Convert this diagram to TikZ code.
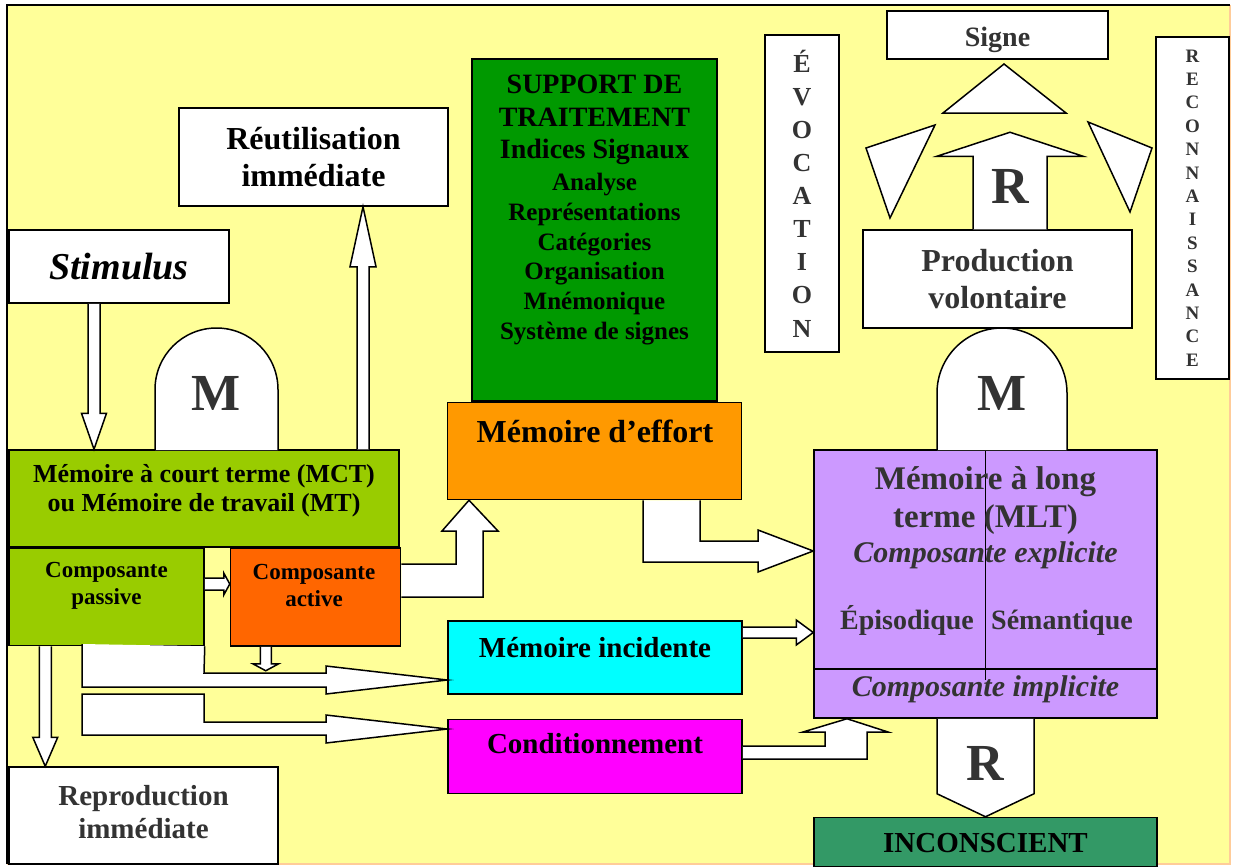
\documentclass[tikz,border=0pt]{standalone}
\usepackage{fontspec}
\setmainfont{Liberation Serif}
\usetikzlibrary{calc,positioning}

\definecolor{fond}{HTML}{FFFF99}
\definecolor{bord}{HTML}{FFCC99}
\definecolor{vertmct}{HTML}{99CC00}
\definecolor{orangeact}{HTML}{FF6600}
\definecolor{orangeeff}{HTML}{FF9900}
\definecolor{vertsupp}{HTML}{009900}
\definecolor{cyaninc}{HTML}{00FFFF}
\definecolor{magcond}{HTML}{FF00FF}
\definecolor{lilamlt}{HTML}{CC99FF}
\definecolor{vertincon}{HTML}{339966}
\definecolor{gristexte}{HTML}{333333}

\newcommand{\fsz}[2]{\fontsize{#1}{#2}\selectfont}
\newcommand{\blockarrow}[5]{%
  \path[block arrow] let \p1=(#1), \p2=(#2),
    \n1={atan2(\y2-\y1,\x2-\x1)}, \n2={veclen(\x2-\x1,\y2-\y1)} in
    [shift={(\p1)}, rotate=\n1]
    (0pt,-#3pt) -- ({\n2-#5pt},-#3pt) -- ({\n2-#5pt},-#4pt) -- ({\n2+0pt},0pt)
    -- ({\n2-#5pt},#4pt) -- ({\n2-#5pt},#3pt) -- (0pt,#3pt);}

\begin{document}
\begin{tikzpicture}[x=1pt,y=-1pt,line width=1.5pt,
    box/.style={draw,rectangle,inner sep=0pt,font=\bfseries},
    txt/.style={inner sep=0pt,font=\bfseries},
    block arrow/.style={draw,fill=white,line join=miter}]

    \useasboundingbox (0,0) rectangle (1234,867);
    \fill[fond] (7,5) rectangle (1230,864);
    \draw[bord,line width=2pt] (1230,5) -- (1230,864) -- (7,864);
    \draw[line width=2pt] (7,864) -- (7,5) -- (1230,5);

    \node[box, fill=white, minimum width=220pt, minimum height=73pt, font=\bfseries\itshape\fsz{38}{44}] (stim) at (119,266.5) {Stimulus};
    \node[box, fill=white, minimum width=269pt, minimum height=98pt, align=center, font=\bfseries\fsz{32}{37}] (reut) at (313.5,157) {Réutilisation\\immédiate};

    \node[box, fill=vertmct, minimum width=390pt, minimum height=97pt] (mct) at (204,498.5) {};
    \node[txt, align=center, font=\bfseries\fsz{26}{29}] (mcttxt) at (204,491) {Mémoire à court terme (MCT)\\ou Mémoire de travail (MT)};
    \node[box, fill=vertmct, minimum width=195pt, minimum height=97pt, below right=0pt and 0pt of mct.south west] (pass) {};
    \node[txt, align=center, font=\bfseries\fsz{23}{27}] (passtxt) at (106.5,585.5) {Composante\\passive};
    \node[box, fill=orangeact, minimum width=170pt, minimum height=98pt, right=25pt of pass] (act) {};
    \node[txt, align=center, font=\bfseries\fsz{23}{27}] (acttxt) at (314,585.5) {Composante\\active};

    \node[box, fill=white, minimum width=269pt, minimum height=97pt] (repro) at (143.5,815.5) {};
    \node[txt, align=center, text=gristexte, font=\bfseries\fsz{29}{33}] (reprotxt) at (143.5,812) {Reproduction\\immédiate};

    \node[box, fill=vertsupp, minimum width=245pt, minimum height=342pt] (supp) at (594.5,230) {};
    \node[txt, align=center, font=\bfseries\fsz{28}{32.5}] (supptop) at (594.5,120) {SUPPORT DE\\TRAITEMENT\\Indices Signaux};
    \node[txt, align=center, font=\bfseries\fsz{25}{29.8}] (suppbot) at (594.5,259) {Analyse\\Représentations\\Catégories\\Organisation\\Mnémonique\\Système de signes};

    \node[box, fill=orangeeff, minimum width=294pt, minimum height=97pt, below=0pt of supp] (eff) {};
    \node[txt, anchor=base, font=\bfseries\fsz{32}{37}] (efftxt) at (595,442) {Mémoire d’effort};
    \node[box, fill=cyaninc, minimum width=294pt, minimum height=73pt] (inc) at (595,657.5) {};
    \node[txt, anchor=base, font=\bfseries\fsz{29}{33}] (inctxt) at (595,657) {Mémoire incidente};
    \node[box, fill=magcond, minimum width=294pt, minimum height=74pt, below=24pt of inc] (cond) {};
    \node[txt, anchor=base, font=\bfseries\fsz{29}{33}] (condtxt) at (595,753) {Conditionnement};

    \node[box, fill=lilamlt, minimum width=343pt, minimum height=268pt] (mlt) at (985.5,584) {};
    \draw (mlt.north) -- (mlt.north |- 0,680);
    \draw (mlt.west |- 0,669) -- (mlt.east |- 0,669);
    \node[txt, align=center, text=gristexte, font=\bfseries\fsz{33}{38}] (mlttitle) at (985.5,501) {Mémoire à long\\terme (MLT)};
    \node[txt, anchor=base, text=gristexte, font=\bfseries\itshape\fsz{30}{34}] (mltexp) at (985.5,562) {Composante explicite};
    \node[txt, anchor=base, text=gristexte, font=\bfseries\fsz{28}{32}] (episo) at (907,629) {Épisodique};
    \node[txt, anchor=base, text=gristexte, font=\bfseries\fsz{28}{32}] (seman) at (1062,629) {Sémantique};
    \node[txt, anchor=base, text=gristexte, font=\bfseries\itshape\fsz{30}{34}] (mltimp) at (985.5,696) {Composante implicite};

    \node[box, fill=vertincon, minimum width=343pt, minimum height=49pt, below=98pt of mlt] (incon) {};
    \node[txt, anchor=base, font=\bfseries\fsz{29}{33}] (incontxt) at (985.5,852) {INCONSCIENT};

    \node[box, fill=white, minimum width=269pt, minimum height=98pt, align=center, text=gristexte, font=\bfseries\fsz{32}{37}] (prod) at (997.5,279) {Production\\volontaire};
    \node[box, fill=white, minimum width=221pt, minimum height=48pt] (signe) at (997.5,35) {};
    \node[txt, anchor=base, text=gristexte, font=\bfseries\fsz{28}{32}] (signetxt) at (997.5,46.5) {Signe};

    \node[box, fill=white, minimum width=74pt, minimum height=317pt, align=center, text=gristexte, font=\bfseries\fsz{26}{33.1}] (evoc) at (802,193.5) {É\\V\\O\\C\\A\\T\\I\\O\\N};
    \node[box, fill=white, minimum width=73pt, minimum height=342pt, align=center, text=gristexte, font=\bfseries\fsz{19}{23.4}] (reco) at (1192.5,208) {R\\E\\C\\O\\N\\N\\A\\I\\S\\S\\A\\N\\C\\E};

    \filldraw[fill=white] (155,450) -- (155,389.5) arc (180:360:61.5) -- (278,450);
    \filldraw[fill=white] (937,450) -- (937,393) arc (180:360:65) -- (1067,450);
    \node[txt, anchor=base, text=gristexte, font=\bfseries\fsz{52}{60}] (mleft) at (216.5,410) {M};
    \node[txt, anchor=base, text=gristexte, font=\bfseries\fsz{52}{60}] (mright) at (1002,410) {M};

    \coordinate (stimout) at ($(stim.south)+(-25,0)$);
    \coordinate (reutin) at ($(reut.south)+(49.5,0)$);
    \blockarrow{stimout}{stimout |- mct.north}{6}{12.5}{36}
    \blockarrow{reutin |- mct.north}{reutin}{6}{13}{60}
    \blockarrow{pass.east |- 0,584}{act.west |- 0,584}{6}{11}{6}
    \blockarrow{$(act.south west)+(36,0)$}{$(act.south west)+(36,24)$}{5.5}{13}{7}
    \blockarrow{$(pass.south west)+(37,0)$}{$(repro.north west)+(37,0)$}{6}{12.5}{29}
    \blockarrow{inc.east |- 0,632.5}{mlt.west |- 0,632.5}{5.5}{12.5}{17}
    \blockarrow{$(prod.north)+(12.5,0)$}{$(prod.north)+(12.5,-97)$}{37}{73}{24}
    \blockarrow{mlt.south}{incon.north}{48.5}{48.5}{23}

    \path[block arrow] (pass.south east) -- (204,673) -- (326,673) -- (326,666) -- (inc.west |- 0,680)
        -- (326,694) -- (326,687) -- (82,687) -- (82,644);
    \path[block arrow] (82,694) -- (204,694) -- (204,722) -- (326,722) -- (326,715) -- (cond.west |- 0,729)
        -- (326,743) -- (326,735) -- (82,735) -- cycle;
    \path[block arrow] (act.east |- 0,564) -- (456,564) -- (456,531) -- (442,531) -- (469,0 |- eff.south)
        -- (498,531) -- (483,531) -- (483,597) -- (act.east |- 0,597);
    \path[block arrow] (643,0 |- eff.south) -- (643,562) -- (758,562) -- (758,572) -- (mlt.west |- 0,551)
        -- (758,530) -- (758,541) -- (700,541) -- (700,0 |- eff.south);
    \path[block arrow] (cond.east |- 0,746) -- (825,746) -- (825,732) -- (803,732) -- (847,0 |- mlt.south)
        -- (888,732) -- (867,732) -- (867,759) -- (cond.east |- 0,759);

    \path[block arrow] (943,113) -- (1004,64) -- (1066,113) -- cycle;
    \path[block arrow] (866,148) -- (935,125) -- (890,218) -- cycle;
    \path[block arrow] (1088,122) -- (1152,148) -- (1130,212) -- cycle;

    \node[txt, anchor=base, text=gristexte, font=\bfseries\fsz{52}{60}] (rup) at (1010,203) {R};
    \node[txt, anchor=base, text=gristexte, font=\bfseries\fsz{52}{60}] (rdown) at (985.5,780) {R};
\end{tikzpicture}
\end{document}
